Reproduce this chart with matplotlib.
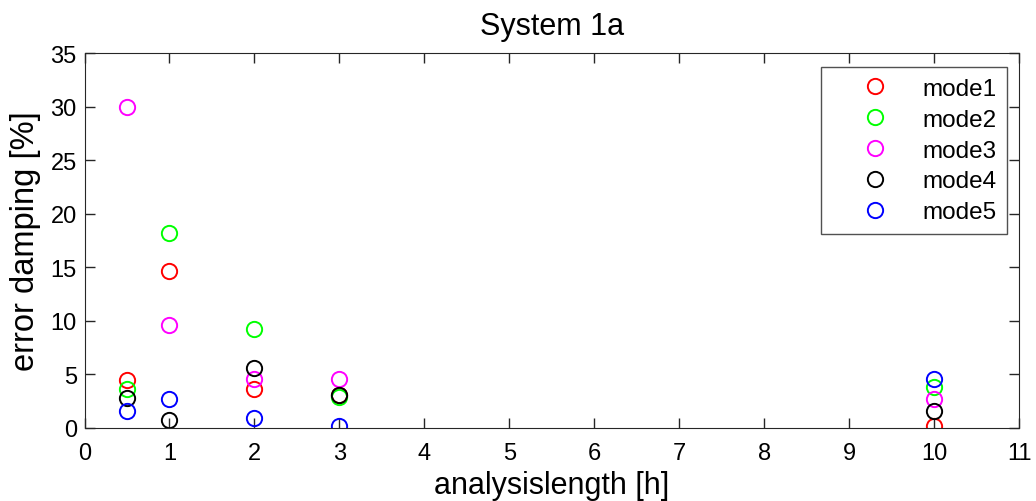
import matplotlib
matplotlib.use("Agg")
import matplotlib.pyplot as plt

plt.rcParams['font.family'] = ['Liberation Sans', 'DejaVu Sans']

x_vals = [0.5, 1, 2, 3, 10]
mode1 = [4.4, 14.6, 3.6, 3.0, 0.1]
mode2 = [3.6, 18.2, 9.2, 2.85, 3.75]
mode3 = [30.0, 9.6, 4.55, 4.5, 2.7]
mode4 = [2.75, 0.7, 5.6, 3.0, 1.55]
mode5 = [1.55, 2.7, 0.85, 0.12, 4.55]
labels = ['mode1', 'mode2', 'mode3', 'mode4', 'mode5']
colors = ['#ff0000', '#00ff00', '#ff00ff', '#000000', '#0000ff']

fig = plt.figure(figsize=(10.36, 5.02), dpi=100)
ax = fig.add_axes([0.0816, 0.1464, 0.902, 0.746])
for ys, lab, c in zip([mode1, mode2, mode3, mode4, mode5], labels, colors):
    ax.plot(x_vals, ys, linestyle='none', marker='o', markersize=11,
            markerfacecolor='none', markeredgecolor=c, markeredgewidth=1.4, label=lab)

ax.set_xlim(0, 11)
ax.set_ylim(0, 35)
ax.set_xticks(range(0, 12))
ax.set_yticks(range(0, 36, 5))
ax.tick_params(direction='in', top=True, right=True, labelsize=17, length=7, width=1,
               colors='#262626', labelcolor='black')
ax.tick_params(axis='x', pad=10.5)
ax.tick_params(axis='y', pad=5.6)
for s in ax.spines.values():
    s.set_color('#262626')
ax.set_title('System 1a', fontsize=22, pad=14)
ax.set_xlabel('analysislength [h]', fontsize=22, labelpad=4)
ax.set_ylabel('error damping [%]', fontsize=23.5, labelpad=7)
leg = ax.legend(loc='upper right', fontsize=17.5, frameon=True, fancybox=False,
                edgecolor='#262626', borderpad=0.45, labelspacing=0.36,
                handletextpad=0.2, handlelength=3.5, borderaxespad=0,
                bbox_to_anchor=(0.9872, 0.9626))
leg.get_frame().set_linewidth(1)
fig.savefig('out.png', dpi=100)
